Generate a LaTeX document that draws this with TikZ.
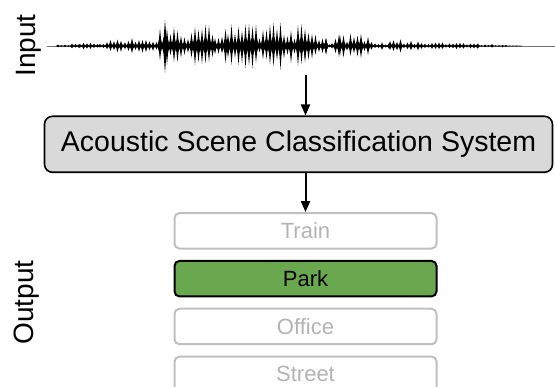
\documentclass[tikz,border=0pt]{standalone}
\usepackage{fontspec}
\setmainfont{Liberation Sans}
\usetikzlibrary{arrows.meta}
\definecolor{parkgreen}{HTML}{6AA84F}
\definecolor{sysgray}{HTML}{D9D9D9}
\definecolor{boxgray}{HTML}{BFBFBF}
\definecolor{txtgray}{HTML}{B3B3B3}
\begin{document}
\begin{tikzpicture}[x=1pt,y=-1pt,
  sysbox/.style={draw=black, fill=sysgray, line width=1.6pt, rounded corners=8pt,
    minimum width=508pt, minimum height=56pt, inner sep=0pt,
    font=\fontsize{28.5}{30}\selectfont},
  outbox/.style={draw=boxgray, line width=2pt, rounded corners=5pt, text=txtgray,
    minimum width=262pt, minimum height=35.5pt, inner sep=0pt,
    font=\fontsize{22}{24}\selectfont},
  chosen/.style={outbox, draw=black, fill=parkgreen, text=black},
  sidelabel/.style={rotate=90, inner sep=0pt, font=\fontsize{28}{30}\selectfont},
  flow/.style={line width=2pt, -{Triangle[length=11pt,width=9pt]}}
]
\useasboundingbox (0,0) rectangle (555,387);

% waveform
\draw[line width=0.6pt, black!55] (47,46) -- (555,46);
\pgfmathsetseed{777}
\foreach \xa/\ea/\xb/\eb in {58/1.5/80/3, 80/3/100/3.5, 100/6/125/7, 125/8/160/13,
  160/20/215/23, 215/22/222/10, 222/10/228/22, 228/23/305/24, 305/18/326/14,
  326/14/332/5, 332/8/340/13, 340/14/368/12, 368/4.5/390/3.5, 390/7/418/7,
  418/4.5/478/3.5, 478/2.5/520/1}
{
  \pgfmathtruncatemacro\wn{(\xb-\xa)/3.5}
  \foreach \i in {0,...,\wn} {
    \pgfmathsetmacro\wx{\xa+3.5*\i}
    \pgfmathsetmacro\we{\ea+(\eb-\ea)*\i/max(\wn,1)}
    \pgfmathsetmacro\wf{0.3+0.7*rnd}
    \pgfmathsetmacro\wu{\we*\wf}
    \pgfmathsetmacro\wdn{\we*\wf*(0.75+0.4*rnd)}
    \fill (\wx-2.6,46) -- (\wx-1,46-0.4*\wu) -- (\wx,46-\wu) -- (\wx+1,46-0.4*\wu)
      -- (\wx+2.6,46) -- (\wx+1,46+0.4*\wdn) -- (\wx,46+\wdn) -- (\wx-1,46+0.4*\wdn) -- cycle;
  }
}
\fill (163,46) -- (165,20) -- (167,46) -- (165,73) -- cycle;

% labels
\node[sidelabel] (inlab) at (28.5,45.5) {Input};
\node[sidelabel] (outlab) at (26.5,302.5) {Output};

% system
\node[sysbox] (sys) at (298.5,144.3) {Acoustic Scene Classification System};

% outputs
\node[outbox] (train) at (305.5,230.8) {Train};
\node[chosen] (park) at (305.5,278.7) {Park};
\node[outbox] (office) at (305.5,326.5) {Office};
\node[outbox] (street) at (305.5,374.3) {Street};

% arrows
\coordinate (wavebottom) at (305.5,75);
\draw[flow] (wavebottom) -- (wavebottom |- sys.north);
\draw[flow] (sys.south -| train.north) -- (train.north);
\end{tikzpicture}
\end{document}
